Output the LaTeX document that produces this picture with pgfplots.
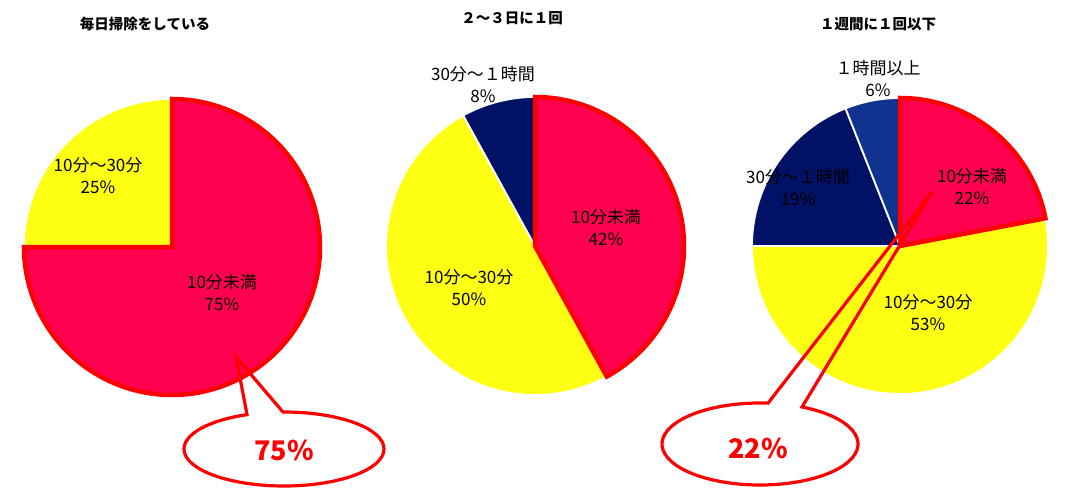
\documentclass[border=0pt]{standalone}
\usepackage{pgfplots}
\pgfplotsset{compat=1.18}
\usepackage{fontspec}
\setmainfont{Noto Sans CJK JP}
\definecolor{cpink}{RGB}{255,0,80}
\definecolor{cyel}{RGB}{255,255,20}
\definecolor{cnavy}{RGB}{0,17,102}
\definecolor{cblue}{RGB}{16,51,143}
\definecolor{cred}{RGB}{255,0,0}
% #1 cx, #2 cy, #3 radius, #4 cumulative start (%), #5 value (%), #6 fill, #7 border style
\newcommand{\slice}[7]{%
  \pgfmathsetmacro\angA{90-3.6*(#4+#5)}%
  \pgfmathsetmacro\angB{90-3.6*(#4)}%
  \addplot[mark=none, fill=#6, #7, domain=\angA:\angB, samples=121, variable=\t]
    ({#1+#3*cos(\t)},{#2+#3*sin(\t)}) -- (axis cs:#1,#2) -- cycle;
}
\newcommand{\lab}[1]{\fontsize{17}{22}\selectfont #1}
\begin{document}
\begin{tikzpicture}
\begin{axis}[scale only axis, width=1073pt, height=489pt,
  xmin=0, xmax=1073, ymin=0, ymax=489, axis lines=none, clip=false]
\path (axis cs:0,0) rectangle (axis cs:1073,489);
% ---------- Pie 1: 毎日掃除をしている (10分未満 75, 10分～30分 25)
\slice{172}{242}{148}{75}{25}{cyel}{draw=white, line width=1.5pt}
\slice{172}{242}{148}{0}{75}{cpink}{draw=cred, line width=4.5pt, line join=miter}
% ---------- Pie 2: ２～３日に１回 (42, 50, 8)
\slice{535}{243}{149}{42}{50}{cyel}{draw=white, line width=1.8pt}
\slice{535}{243}{149}{92}{8}{cnavy}{draw=white, line width=1.8pt}
\slice{535}{243}{149}{0}{42}{cpink}{draw=cred, line width=4.5pt, line join=miter}
% ---------- Pie 3: １週間に１回以下 (22, 53, 19, 6)
\slice{900}{243}{148}{22}{53}{cyel}{draw=white, line width=1.8pt}
\slice{900}{243}{148}{75}{19}{cnavy}{draw=white, line width=1.8pt}
\slice{900}{243}{148}{94}{6}{cblue}{draw=white, line width=1.8pt}
\slice{900}{243}{148}{0}{22}{cpink}{draw=cred, line width=4.5pt, line join=miter}
% ---------- titles
\node[font=\fontsize{14.5}{16}\selectfont\bfseries] at (axis cs:145,465) {毎日掃除をしている};
\node[font=\fontsize{14.5}{16}\selectfont\bfseries] at (axis cs:512,471) {２～３日に１回};
\node[font=\fontsize{14.5}{16}\selectfont\bfseries] at (axis cs:878,465) {１週間に１回以下};
% ---------- slice labels
\node[align=center, font=\lab{}] at (axis cs:98,313) {10分～30分\\25\%};
\node[align=center, font=\lab{}] at (axis cs:222,197) {10分未満\\75\%};
\node[align=center, font=\lab{}] at (axis cs:483,405) {30分～１時間\\8\%};
\node[align=center, font=\lab{}] at (axis cs:606,262) {10分未満\\42\%};
\node[align=center, font=\lab{}] at (axis cs:469,201) {10分～30分\\50\%};
\node[align=center, font=\lab{}] at (axis cs:878,411) {１時間以上\\6\%};
\node[align=center, font=\lab{}] at (axis cs:798,302) {30分～１時間\\19\%};
\node[align=center, font=\lab{}] at (axis cs:972,303) {10分未満\\22\%};
\node[align=center, font=\lab{}] at (axis cs:928,176) {10分～30分\\53\%};
% ---------- callouts
\draw[cred, line width=3.2pt, line join=miter]
  ([shift={(111.7:100pt and 37pt)}]axis cs:284,40) -- (axis cs:236,132)
  -- ([shift={(90.6:100pt and 37pt)}]axis cs:284,40)
  arc[start angle=90.6, end angle=-248.3, x radius=100pt, y radius=37pt] -- cycle;
\node[text=cred, font=\fontsize{27}{28}\selectfont\bfseries] at (axis cs:284,39) {75\%};
\draw[cred, line width=3.2pt, line join=miter]
  ([shift={(85.3:98pt and 41pt)}]axis cs:760,45) -- (axis cs:932,297)
  -- ([shift={(64.6:98pt and 41pt)}]axis cs:760,45)
  arc[start angle=64.6, end angle=-274.7, x radius=98pt, y radius=41pt] -- cycle;
\node[text=cred, font=\fontsize{27}{28}\selectfont\bfseries] at (axis cs:758,41) {22\%};
\end{axis}
\end{tikzpicture}
\end{document}
